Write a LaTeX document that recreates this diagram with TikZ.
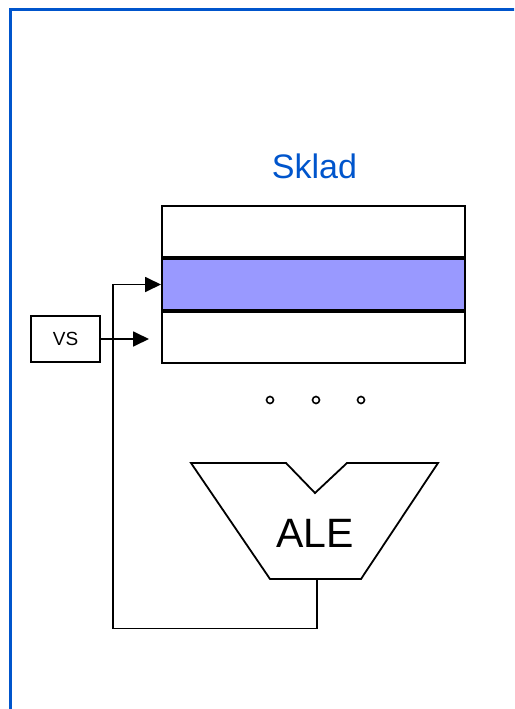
\documentclass[tikz,border=0pt]{standalone}
\usepackage{fontspec}
\setmainfont{Liberation Sans}
\usetikzlibrary{arrows.meta}
\definecolor{frameblue}{RGB}{0,85,204}
\definecolor{rowblue}{RGB}{153,153,255}
\tikzset{
  row/.style={draw=black, line width=2pt, minimum width=303pt, minimum height=51pt, inner sep=0pt, outer sep=0pt, anchor=north west},
  conn/.style={draw=black, line width=1.8pt},
  arr/.style={conn, -{Triangle[length=16pt,width=15pt]}},
  dotc/.style={draw=black, line width=1.6pt, circle, minimum size=7pt, inner sep=0pt},
}
\begin{document}
\begin{tikzpicture}[x=1pt,y=-1pt]
\useasboundingbox (0,0) rectangle (514,709);
\clip (0,0) rectangle (514,709);
\fill[white] (0,0) rectangle (514,709);
% frame
\draw[frameblue, line width=3pt] (10,720) -- (10,9.5) -- (530,9.5);
% title
\node[text=frameblue, font=\fontsize{34}{40}\selectfont, anchor=base] (title) at (314.5,178) {Sklad};
% stack rows
\node[row, fill=white] (r1) at (162,206) {};
\node[row, fill=rowblue] (r2) at (162,259) {};
\node[row, fill=white] (r3) at (162,311.5) {};
% dots
\node[dotc] (d1) at (270,400) {};
\node[dotc] (d2) at (316,400) {};
\node[dotc] (d3) at (361,400) {};
% VS
\node[draw=black, line width=1.8pt, minimum width=69pt, minimum height=46pt, inner sep=0pt, font=\fontsize{19}{22}\selectfont] (vs) at (65.5,339) {VS};
\coordinate (vsend) at (149,339);
\draw[arr] (vs.east) -- (vsend);
% ALE
\draw[black, line width=1.8pt] (191,463) -- (286,463) -- (315,493) -- (347,463) -- (438,463) -- (361,579) -- (270,579) -- cycle;
\node[font=\fontsize{41}{48}\selectfont, anchor=base] (ale) at (315,547) {ALE};
\coordinate (alebot) at (317,579);
\coordinate (r2in) at (161,284.5);
\draw[arr] (alebot) -- (317,628.5) -- (113,628.5) -- (113,284.5) -- (r2in);
\end{tikzpicture}
\end{document}
